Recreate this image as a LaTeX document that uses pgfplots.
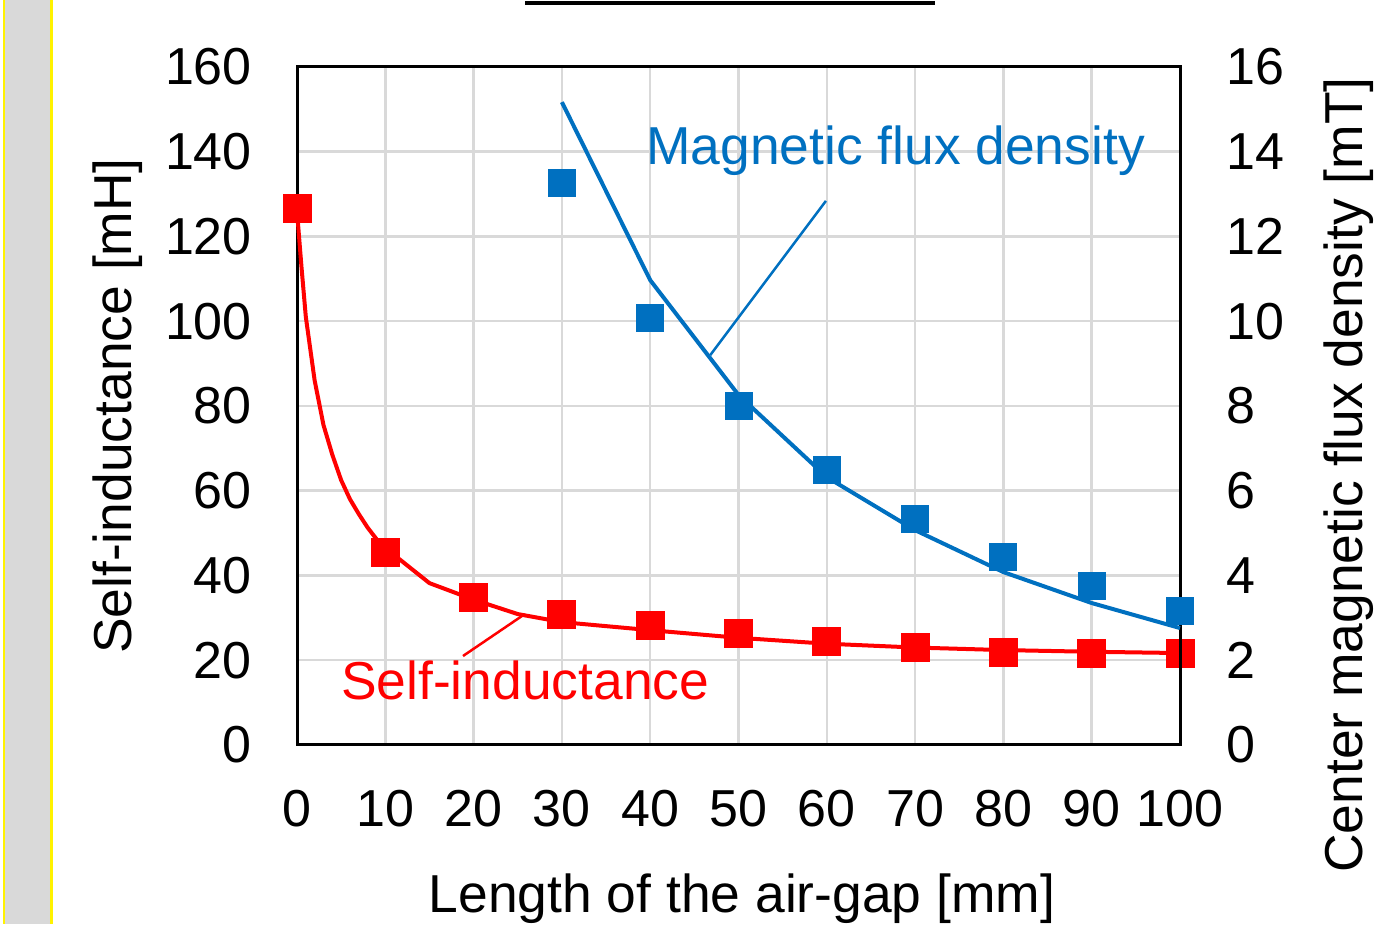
\documentclass[border=0pt]{standalone}
\usepackage{fontspec}
\setmainfont{Liberation Sans}
\usepackage{pgfplots}
\pgfplotsset{compat=1.18}
\definecolor{myblue}{RGB}{0,112,192}
\definecolor{myred}{RGB}{255,0,0}
\definecolor{gridgray}{RGB}{217,217,217}
\newcommand{\bigfont}{\fontsize{52}{62}\selectfont}
\newcommand{\labfont}{\fontsize{53.4}{64}\selectfont}
\begin{document}
\begin{tikzpicture}[x=1pt,y=1pt]
\useasboundingbox (0,0) rectangle (1376,924);
\fill[gridgray] (4,0) rectangle (51.5,924);
\draw[yellow, line width=2.5pt] (4,0)--(4,924);
\draw[yellow, line width=2.5pt] (51.5,0)--(51.5,924);
\draw[black, line width=4pt] (525,921)--(935,921);

\begin{axis}[at={(297pt,179pt)}, anchor=south west, scale only axis,
  width=883pt, height=678pt,
  xmin=0, xmax=100, ymin=0, ymax=160,
  xtick={0,10,...,100}, ytick={0,20,...,160},
  grid=major, major grid style={gridgray, line width=2.5pt},
  axis line style={black, line width=3pt},
  major tick length=0pt,
  tick label style={font=\bigfont, inner sep=0pt},
  xticklabel style={anchor=north, yshift=-45pt},
  yticklabel style={anchor=east, xshift=-45pt},
  /pgf/number format/assume math mode=true,
  clip=false]
\addplot[myred, line width=4pt, line join=round, no marks] coordinates {
(0,126) (0.5,113) (1,101) (2,86) (3,75.5) (4,68.5) (5,62.5) (6,58) (7,54.5) (8,51.3) (9,48.6) (10,46.5)
(15,38.2) (20,34.3) (25,30.9) (30,29.0) (40,27.1) (50,25.3) (60,23.9) (70,23.0) (80,22.4) (90,22.0) (100,21.7)};
\addplot[only marks, mark=square*, mark size=14pt, myred, mark options={line width=0pt}] coordinates {
(0,126.5) (10,45.5) (20,34.9) (30,30.7) (40,28.3) (50,26.2) (60,24.5) (70,22.9) (80,21.8) (90,21.7) (100,21.5)};
\draw[myred, line width=2.5pt] (axis cs:18.8,21.0) -- (axis cs:25.8,30.9);
\draw[myblue, line width=2.5pt] (axis cs:46.8,92.0) -- (axis cs:59.9,128.4);
\end{axis}

\begin{axis}[at={(297pt,179pt)}, anchor=south west, scale only axis,
  width=883pt, height=678pt,
  xmin=0, xmax=100, ymin=0, ymax=16,
  axis x line=none, axis y line*=right,
  ytick={0,2,...,16},
  axis line style={black, line width=3pt},
  major tick length=0pt,
  tick label style={font=\bigfont, inner sep=0pt},
  yticklabel style={anchor=west, xshift=46pt},
  /pgf/number format/assume math mode=true,
  clip=false]
\addplot[myblue, line width=4pt, line join=round, no marks] coordinates {
(30,15.17) (40,10.97) (50,8.26) (60,6.32) (70,5.07) (80,4.08) (90,3.35) (100,2.76)};
\addplot[only marks, mark=square*, mark size=13.5pt, myblue, mark options={line width=0pt}] coordinates {
(30,13.26) (40,10.07) (50,8.0) (60,6.49) (70,5.33) (80,4.44) (90,3.75) (100,3.16)};
\end{axis}

\node[anchor=base west, inner sep=0pt, text=myblue, font=\labfont] at (646,759) {Magnetic flux density};
\node[anchor=base west, inner sep=0pt, text=myred, font=\labfont] at (341,224) {Self-inductance};
\node[rotate=90, inner sep=0pt, font=\labfont] at (118,518) {Self-inductance [mH]};
\node[rotate=90, inner sep=0pt, font=\labfont] at (1349,449) {Center magnetic flux density [mT]};
\node[anchor=base, inner sep=0pt, font=\labfont] at (742,12) {Length of the air-gap [mm]};
\end{tikzpicture}
\end{document}
